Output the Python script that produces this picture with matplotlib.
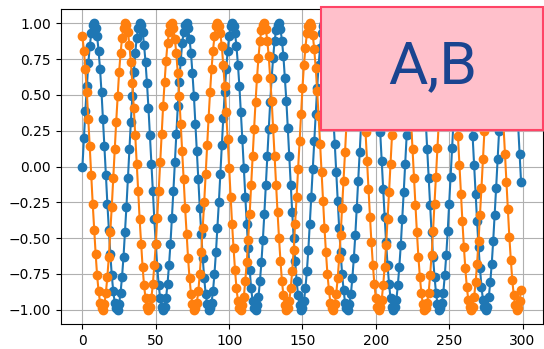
import matplotlib
matplotlib.use("Agg")
import matplotlib.pyplot as plt
import numpy as np
from matplotlib.patches import Rectangle

# sample index on the x axis
x_index = list(range(300))

# series values in hundredths
a_hundredths = [
    0, 20, 39, 56, 72, 84, 93, 99, 100, 97,
    91, 81, 68, 52, 33, 14, -6, -26, -44, -61,
    -76, -87, -95, -99, -100, -96, -88, -77, -63, -46,
    -28, -8, 12, 31, 49, 66, 79, 90, 97, 100,
    99, 94, 85, 73, 58, 41, 22, 2, -17, -37,
    -54, -70, -83, -92, -98, -100, -98, -92, -82, -69,
    -54, -36, -17, 3, 23, 42, 59, 74, 86, 94,
    99, 100, 97, 89, 79, 65, 49, 30, 11, -9,
    -29, -47, -64, -78, -89, -96, -100, -99, -95, -87,
    -75, -60, -43, -25, -5, 15, 34, 52, 68, 81,
    91, 98, 100, 98, 93, 84, 71, 56, 38, 19,
    -1, -21, -40, -57, -72, -85, -94, -99, -100, -97,
    -91, -80, -67, -51, -33, -13, 7, 26, 45, 62,
    76, 88, 95, 99, 100, 96, 88, 77, 62, 46,
    27, 7, -13, -32, -50, -66, -80, -90, -97, -100,
    -99, -94, -85, -73, -58, -40, -21, -2, 18, 37,
    55, 71, 83, 93, 98, 100, 98, 92, 82, 69,
    53, 35, 16, -4, -24, -43, -60, -75, -86, -95,
    -99, -100, -96, -89, -78, -64, -48, -29, -10, 10,
    30, 48, 64, 78, 89, 96, 100, 99, 95, 86,
    75, 60, 43, 24, 4, -16, -35, -53, -69, -82,
    -92, -98, -100, -98, -93, -83, -70, -55, -37, -18,
    2, 22, 41, 58, 73, 85, 94, 99, 100, 97,
    90, 80, 66, 50, 32, 12, -8, -27, -46, -63,
    -77, -88, -96, -100, -99, -95, -88, -76, -62, -45,
    -26, -7, 13, 33, 51, 67, 80, 91, 97, 100,
    99, 93, 85, 72, 57, 40, 21, 1, -19, -38,
    -56, -71, -84, -93, -98, -100, -98, -91, -81, -68,
    -52, -34, -15, 5, 25, 44, 61, 75, 87, 95,
    99, 100, 96, 89, 78, 64, 47, 29, 9, -11,
]

b_hundredths = [
    91, 81, 68, 52, 33, 14, -6, -26, -44, -61,
    -76, -87, -95, -99, -100, -96, -88, -77, -63, -46,
    -28, -8, 12, 31, 49, 66, 79, 90, 97, 100,
    99, 94, 85, 73, 58, 41, 22, 2, -17, -37,
    -54, -70, -83, -92, -98, -100, -98, -92, -82, -69,
    -54, -36, -17, 3, 23, 42, 59, 74, 86, 94,
    99, 100, 97, 89, 79, 65, 49, 30, 11, -9,
    -29, -47, -64, -78, -89, -96, -100, -99, -95, -87,
    -75, -60, -43, -25, -5, 15, 34, 52, 68, 81,
    91, 98, 100, 98, 93, 84, 71, 56, 38, 19,
    -1, -21, -40, -57, -72, -85, -94, -99, -100, -97,
    -91, -80, -67, -51, -33, -13, 7, 26, 45, 62,
    76, 88, 95, 99, 100, 96, 88, 77, 62, 46,
    27, 7, -13, -32, -50, -66, -80, -90, -97, -100,
    -99, -94, -85, -73, -58, -40, -21, -2, 18, 37,
    55, 71, 83, 93, 98, 100, 98, 92, 82, 69,
    53, 35, 16, -4, -24, -43, -60, -75, -86, -95,
    -99, -100, -96, -89, -78, -64, -48, -29, -10, 10,
    30, 48, 64, 78, 89, 96, 100, 99, 95, 86,
    75, 60, 43, 24, 4, -16, -35, -53, -69, -82,
    -92, -98, -100, -98, -93, -83, -70, -55, -37, -18,
    2, 22, 41, 58, 73, 85, 94, 99, 100, 97,
    90, 80, 66, 50, 32, 12, -8, -27, -46, -63,
    -77, -88, -96, -100, -99, -95, -88, -76, -62, -45,
    -26, -7, 13, 33, 51, 67, 80, 91, 97, 100,
    99, 93, 85, 72, 57, 40, 21, 1, -19, -38,
    -56, -71, -84, -93, -98, -100, -98, -91, -81, -68,
    -52, -34, -15, 5, 25, 44, 61, 75, 87, 95,
    99, 100, 96, 89, 78, 64, 47, 29, 9, -11,
    -30, -49, -65, -79, -90, -97, -100, -99, -94, -86,
]

x_ticks = [0, 50, 100, 150, 200, 250, 300]
y_ticks = [-1.0, -0.75, -0.5, -0.25, 0.0, 0.25, 0.5, 0.75, 1.0]
label_text = "A,B"

a_vals = np.array(a_hundredths) / 100
b_vals = np.array(b_hundredths) / 100

fig = plt.figure(figsize=(5.44, 3.49), dpi=100)
ax = fig.add_axes([60.5 / 544, 25 / 349, 482.5 / 544, 315 / 349])
ax.plot(x_index, a_vals, marker="o", markersize=6, linewidth=1.5)
ax.plot(x_index, b_vals, marker="o", markersize=6, linewidth=1.5)
ax.grid(True)
ax.set_xticks(x_ticks)
ax.set_yticks(y_ticks)

# pink label box in the top right corner, with a faint shadow
shadow = Rectangle((323 / 544, (349 - 132) / 349), 222 / 544, 123 / 349,
                   transform=fig.transFigure, facecolor="#e8a0ae",
                   edgecolor="none", alpha=0.5, zorder=4)
fig.add_artist(shadow)
box = Rectangle((321 / 544, (349 - 130) / 349), 222 / 544, 123 / 349,
                transform=fig.transFigure, facecolor="pink",
                edgecolor="#ff4466", linewidth=1.5, zorder=5)
fig.add_artist(box)
fig.text(432.5 / 544, (349 - 83.5) / 349, label_text, fontsize=43.5,
         family="Roboto", color="#1a4490", ha="center", va="baseline",
         zorder=6)

fig.savefig("out.png", dpi=100)
